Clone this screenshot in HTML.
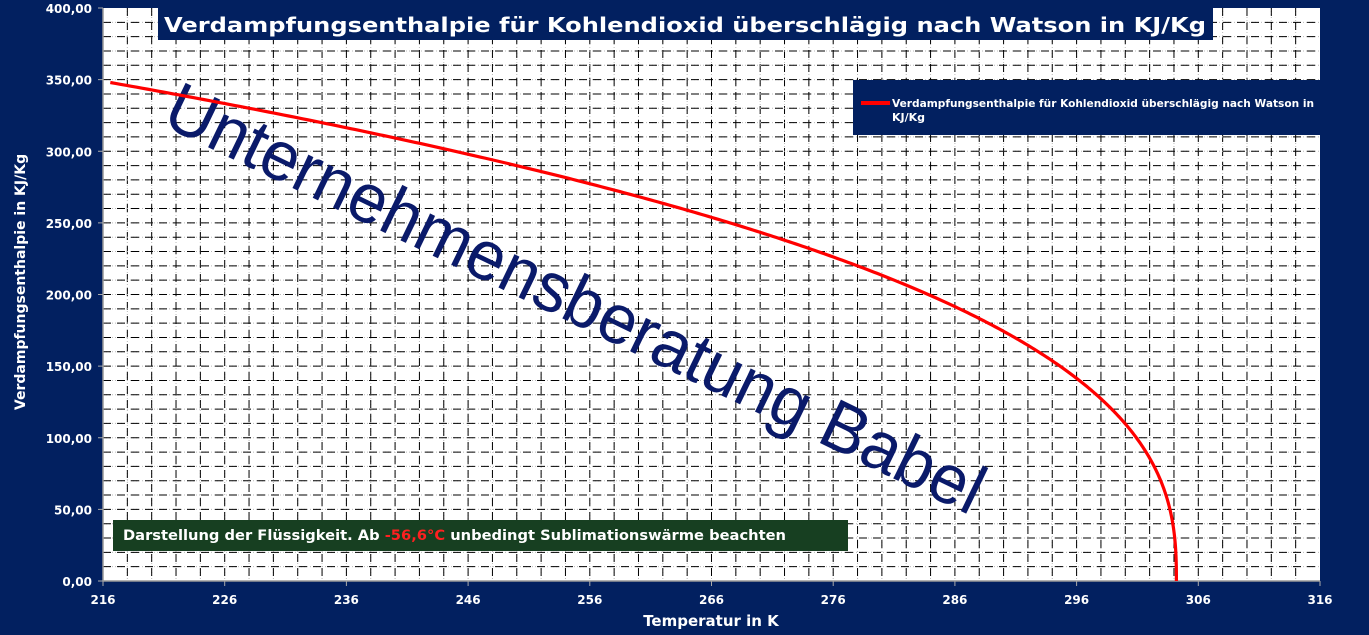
<!DOCTYPE html>
<html><head><meta charset="utf-8"><style>
html,body{margin:0;padding:0;background:#022060;overflow:hidden;}
svg{display:block;}
text{font-family:"DejaVu Sans",sans-serif;}
</style></head><body>
<svg id="s" width="1369" height="635" xmlns="http://www.w3.org/2000/svg">
<rect width="1369" height="635" fill="#022060"/>
<rect x="103" y="8" width="1217" height="573" fill="#fff"/>
<g id="grid"></g>
<g id="ticks" fill="#fff" font-size="12" font-weight="bold"></g>
<text transform="translate(160,124) rotate(25.8)" font-size="70" fill="#0a1a6a" style="font-family:'Liberation Sans',sans-serif" textLength="900" lengthAdjust="spacingAndGlyphs" x="0" y="0">Unternehmensberatung Babel</text>
<path id="curve" fill="none" stroke="#ff0000" stroke-width="3.2"/>
<rect x="158" y="8" width="1055" height="32" fill="#022060"/>
<text x="164" y="32" font-size="20" font-weight="bold" fill="#fff" textLength="1042" lengthAdjust="spacingAndGlyphs">Verdampfungsenthalpie für Kohlendioxid überschlägig nach Watson in KJ/Kg</text>
<rect x="853" y="80" width="467" height="55" fill="#022060"/>
<line x1="861" y1="103" x2="890" y2="103" stroke="#ff0000" stroke-width="4"/>
<text x="892" y="107" font-size="11" font-weight="bold" fill="#fff" textLength="422" lengthAdjust="spacingAndGlyphs">Verdampfungsenthalpie für Kohlendioxid überschlägig nach Watson in</text>
<text x="892" y="121" font-size="11" font-weight="bold" fill="#fff">KJ/Kg</text>
<rect x="113" y="520" width="735" height="31" fill="#173f21"/>
<text x="123" y="540" font-size="14" font-weight="bold" fill="#fff" textLength="663" lengthAdjust="spacingAndGlyphs">Darstellung der Flüssigkeit. Ab <tspan fill="#ff2020">-56,6°C</tspan> unbedingt Sublimationswärme beachten</text>
<text x="711" y="626" text-anchor="middle" font-size="15" font-weight="bold" fill="#fff">Temperatur in K</text>
<text transform="translate(25,282) rotate(-90)" text-anchor="middle" font-size="14" font-weight="bold" fill="#fff">Verdampfungsenthalpie  in KJ/Kg</text>
</svg>
<script>
var L=103,R=1320,T=8,B=581;
function X(t){return L+(t-216)*(R-L)/100}function Y(v){return B-v*(B-T)/400}
var g=document.getElementById('grid'),h='';
function ln(x1,y1,x2,y2){return '<line x1="'+x1+'" y1="'+y1+'" x2="'+x2+'" y2="'+y2+'" stroke="#bbb" stroke-width="1" stroke-dasharray="1,2"/><line x1="'+x1+'" y1="'+y1+'" x2="'+x2+'" y2="'+y2+'" stroke="#000" stroke-width="1" stroke-dasharray="8,6"/>';}
for(var t=218;t<316;t+=2)h+=ln(X(t),T,X(t),B);
for(var v=10;v<400;v+=10)h+=ln(L,Y(v),R,Y(v));
h+='<line x1="'+L+'" y1="'+B+'" x2="'+R+'" y2="'+B+'" stroke="#999" stroke-width="1.5"/>';
h+='<line x1="'+L+'" y1="'+T+'" x2="'+L+'" y2="'+B+'" stroke="#999" stroke-width="1.5"/>';
g.innerHTML=h;
var k='';
for(var t=216;t<=316;t+=10){k+='<text x="'+X(t)+'" y="604" text-anchor="middle">'+t+'</text><line x1="'+X(t)+'" y1="'+B+'" x2="'+X(t)+'" y2="'+(B+5)+'" stroke="#aaa"/>';}
for(var v=0;v<=400;v+=50){k+='<text x="92" y="'+(Y(v)+5)+'" text-anchor="end">'+v+',00</text><line x1="'+(L-5)+'" y1="'+Y(v)+'" x2="'+L+'" y2="'+Y(v)+'" stroke="#aaa"/>';}
document.getElementById('ticks').innerHTML=k;
var Tc=304.2,T0=216.6,H0=348,d='';
for(var i=0;i<=400;i++){var t=T0+(Tc-T0)*(1-Math.pow(1-i/400,2));var hv=H0*Math.pow(Math.max(0,(Tc-t)/(Tc-T0)),0.38);d+=(i?'L':'M')+X(t).toFixed(2)+','+Y(hv).toFixed(2);}
document.getElementById('curve').setAttribute('d',d);
</script>
</body></html>
